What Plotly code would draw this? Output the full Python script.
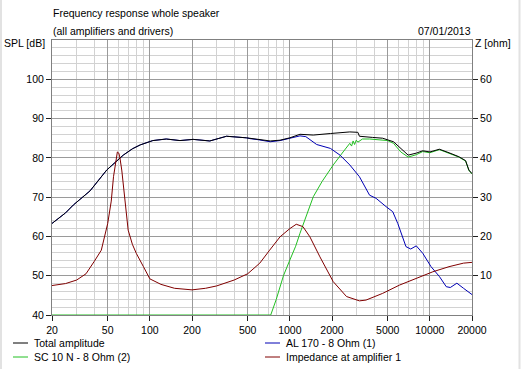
import math
import plotly.graph_objects as go

# ---------------- data ----------------
total_freq = [20, 25, 28.4, 37.4, 49.2, 55, 64.6, 75, 85.4, 105, 131, 164, 204, 268, 353, 490,
              519, 600, 724, 851, 1000, 1181, 1470, 1950, 2680, 3060, 3140, 3900, 4600, 5500,
              6200, 7000, 8000, 8900, 10000, 11700, 13700, 16100, 18000, 19000, 20000]
total_spl = [63.3, 66.0, 68.0, 71.6, 76.9, 78.5, 80.7, 82.3, 83.3, 84.4, 84.8, 84.4, 84.7, 84.3, 85.5, 85.1,
             85.0, 84.8, 84.3, 84.5, 85.1, 86.0, 85.8, 86.2, 86.6, 86.5, 85.5, 85.2, 85.0, 84.1,
             82.3, 80.7, 81.2, 81.8, 81.5, 82.2, 81.3, 80.3, 79.3, 76.9, 76.0]

al170_freq = [20, 25, 28.4, 37.4, 49.2, 55, 64.6, 75, 85.4, 105, 131, 164, 204, 268, 353, 490,
              519, 600, 724, 851, 1000, 1181, 1300, 1554, 1950, 2280, 2680, 3140, 3710, 4130,
              4860, 5430, 5900, 6750, 7300, 8000, 8900, 10200, 11700, 13100, 14000, 15600, 17400,
              19900, 20000]
al170_spl = [63.3, 66.0, 68.0, 71.6, 76.9, 78.5, 80.7, 82.3, 83.3, 84.4, 84.8, 84.4, 84.7, 84.3, 85.5, 85.1,
             84.9, 84.6, 84.1, 84.4, 84.9, 85.6, 85.4, 83.4, 82.4, 80.7, 78.2, 75.2, 70.5, 69.7,
             67.6, 66.3, 63.3, 57.4, 56.8, 57.6, 55.7, 52.3, 49.8, 47.2, 47.0, 48.1, 46.8,
             45.3, 45.2]

sc10_freq = [20, 100, 500, 730, 800, 851, 900, 1000, 1100, 1181, 1300, 1470, 1700, 2042, 2400,
             2680, 2760, 2830, 2900, 2980, 3060, 3300, 3710, 4300, 5000, 5500, 6200, 7000,
             8000, 8900, 10000, 11700, 13700, 16100, 18000, 19000, 20000]
sc10_spl = [40, 40, 40, 40, 44, 47.2, 50, 54, 57.5, 60.8, 65, 70.1, 74, 78.2, 81.5,
            83.7, 83.0, 84.3, 83.4, 84.5, 84.0, 84.8, 84.8, 84.6, 84.4, 83.7, 81.5, 80.2,
            80.8, 81.6, 81.3, 82.1, 81.2, 80.2, 79.2, 76.8, 75.9]

imp_freq = [20, 25, 30, 35, 40, 45, 50, 53, 55, 57, 58.6, 60, 61, 63, 66, 70, 75, 80, 90, 100,
            120, 150, 200, 250, 300, 400, 500, 610, 717, 851, 1000, 1111, 1240, 1390, 1640,
            2040, 2540, 3140, 3500, 4600, 6060, 8000, 10500, 13700, 17400, 20000]
imp_ohm = [7.5, 8.0, 8.9, 10.5, 13.6, 16.5, 23.3, 29.0, 35.2, 39.5, 41.5, 41.2, 40.2, 36.9, 30.1, 21.6,
           18.0, 15.7, 12.3, 9.2, 7.8, 6.8, 6.4, 6.8, 7.4, 8.9, 10.5, 13.2, 16.5, 19.9, 22.0, 23.1,
           22.5, 19.9, 14.8, 8.5, 4.7, 3.6, 3.8, 5.5, 7.6, 9.3, 11.0, 12.3, 13.2, 13.4]

x_tick_vals = [20, 50, 100, 200, 500, 1000, 2000, 5000, 10000, 20000]
x_tick_text = ["20", "50", "100", "200", "500", "1000", "2000", "5000", "10000", "20000"]
x_minor_vals = [30, 40, 60, 70, 80, 90, 300, 400, 600, 700, 800, 900,
                3000, 4000, 6000, 7000, 8000, 9000]
spl_tick_vals = [40, 50, 60, 70, 80, 90, 100]
spl_minor_vals = [v for v in range(42, 110, 2) if v % 10 != 0]
z_tick_vals = [10, 20, 30, 40, 50, 60]

series_names = ["Total amplitude", "AL 170 - 8 Ohm (1)", "SC 10 N - 8 Ohm (2)", "Impedance at amplifier 1"]
series_colors = ["#000000", "#0000b4", "#22c022", "#800000"]

# ---------------- figure ----------------
W, H = 521, 369
PL, PR, PT, PB = 52, 472, 40, 315


def px_x(p):
    return (p - PL) / (PR - PL)


def px_y(p):
    return (PB - p) / (PB - PT)


fig = go.Figure()
fig.add_trace(go.Scatter(x=sc10_freq, y=sc10_spl, mode="lines", name=series_names[2],
                         line=dict(color=series_colors[2], width=1)))
fig.add_trace(go.Scatter(x=al170_freq, y=al170_spl, mode="lines", name=series_names[1],
                         line=dict(color=series_colors[1], width=1)))
fig.add_trace(go.Scatter(x=total_freq, y=total_spl, mode="lines", name=series_names[0],
                         line=dict(color=series_colors[0], width=1)))
fig.add_trace(go.Scatter(x=imp_freq, y=imp_ohm, mode="lines", name=series_names[3], yaxis="y2",
                         line=dict(color=series_colors[3], width=1)))

font_family = "Liberation Sans, Arial, sans-serif"

fig.update_layout(
    width=W, height=H,
    margin=dict(l=PL, r=W - PR, t=PT, b=H - PB, pad=0),
    paper_bgcolor="white", plot_bgcolor="white",
    showlegend=False,
    font=dict(family=font_family, size=10.5, color="black"),
    xaxis=dict(
        type="log", range=[math.log10(20), math.log10(20000)],
        tickmode="array", tickvals=x_tick_vals, ticktext=x_tick_text,
        ticks="outside", ticklen=5, tickcolor="#202020", tickwidth=1,
        showline=True, linecolor="#808080", linewidth=1, mirror=True,
        showgrid=True, gridcolor="#9a9a9a", gridwidth=1, zeroline=False,
        tickfont=dict(size=10.5, family=font_family),
        minor=dict(tickmode="array", tickvals=x_minor_vals, showgrid=True,
                   gridcolor="#d2d2d2", gridwidth=1, ticks=""),
        fixedrange=True,
    ),
    yaxis=dict(
        range=[40, 110], tickmode="array", tickvals=spl_tick_vals,
        ticks="outside", ticklen=5, tickcolor="#202020", tickwidth=1,
        showline=True, linecolor="#808080", linewidth=1, mirror=True,
        showgrid=True, gridcolor="#9a9a9a", gridwidth=1, zeroline=False,
        tickfont=dict(size=10.5, family=font_family),
        minor=dict(tickmode="array", tickvals=spl_minor_vals, showgrid=True,
                   gridcolor="#d2d2d2", gridwidth=1, ticks=""),
        fixedrange=True,
    ),
    yaxis2=dict(
        range=[0, 70], overlaying="y", side="right", tickmode="array", tickvals=z_tick_vals,
        ticks="outside", ticklen=5, tickcolor="#202020", tickwidth=1,
        showline=False, showgrid=False, zeroline=False,
        tickfont=dict(size=10.5, family=font_family),
        fixedrange=True,
    ),
)

annotations = [
    dict(text="Frequency response whole speaker", x=px_x(51), y=px_y(13), xanchor="left", yanchor="middle"),
    dict(text="(all amplifiers and drivers)", x=px_x(51), y=px_y(31), xanchor="left", yanchor="middle"),
    dict(text="07/01/2013", x=px_x(473), y=px_y(31), xanchor="right", yanchor="middle"),
    dict(text="SPL [dB]", x=px_x(2), y=px_y(43), xanchor="left", yanchor="middle"),
    dict(text="Z [ohm]", x=px_x(473), y=px_y(43), xanchor="left", yanchor="middle"),
]

# legend (two columns)
legend_pos = [(13, 343), (265, 343), (13, 357), (265, 357)]
legend_order = [0, 1, 2, 3]
shapes = []
for (lx, ly), idx in zip(legend_pos, legend_order):
    shapes.append(dict(type="line", xref="paper", yref="paper",
                       x0=px_x(lx), x1=px_x(lx + 15), y0=px_y(ly), y1=px_y(ly),
                       line=dict(color=series_colors[idx], width=1)))
    annotations.append(dict(text=series_names[idx], x=px_x(lx + 19), y=px_y(ly),
                            xanchor="left", yanchor="middle"))

# thin light frame on the left/right edges
shapes.append(dict(type="line", xref="paper", yref="paper", x0=px_x(1), x1=px_x(1),
                   y0=px_y(0), y1=px_y(H), line=dict(color="#e2e2e2", width=2)))
shapes.append(dict(type="line", xref="paper", yref="paper", x0=px_x(519.5), x1=px_x(519.5),
                   y0=px_y(0), y1=px_y(H), line=dict(color="#e2e2e2", width=2)))

for a in annotations:
    a.update(xref="paper", yref="paper", showarrow=False,
             font=dict(family=font_family, size=10.5, color="black"))

fig.update_layout(annotations=annotations, shapes=shapes)

fig.write_html("out.html", config={"displayModeBar": False},
               post_script="document.body.style.margin='0';document.body.style.overflow='hidden';")
